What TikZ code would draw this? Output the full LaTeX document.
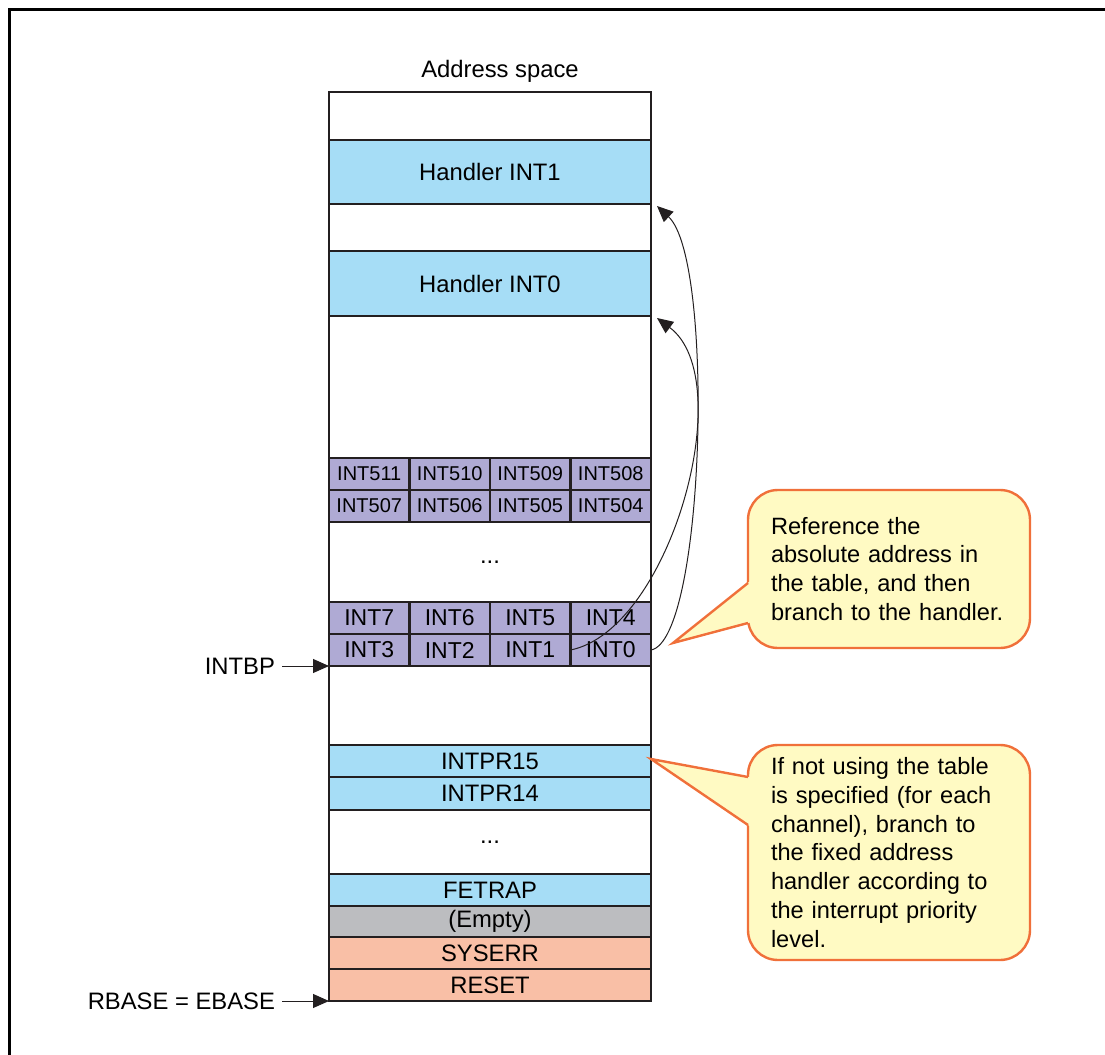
\documentclass[tikz,border=0pt]{standalone}
\usepackage{fontspec}
\setmainfont{Liberation Sans}
\usetikzlibrary{arrows.meta,positioning}

\definecolor{linec}{RGB}{35,31,32}
\definecolor{hdlblue}{RGB}{166,221,246}
\definecolor{vecfill}{RGB}{175,170,212}
\definecolor{emptygray}{RGB}{188,189,192}
\definecolor{sysred}{RGB}{249,191,166}
\definecolor{notefill}{RGB}{255,250,195}
\definecolor{noteline}{RGB}{240,112,58}

\newcommand{\lblfont}{\fontsize{11.9}{13.5}\selectfont}
\newcommand{\cellfont}{\fontsize{11.5}{13}\selectfont}
\newcommand{\widecellfont}{\fontsize{10}{12}\selectfont}
\newcommand{\calloutfont}{\fontsize{11.8}{14.45}\selectfont\hyphenpenalty=10000 }

\begin{document}
\begin{tikzpicture}[x=0.5pt,y=-0.5pt,
  seg/.style={draw=linec,line width=1.1pt,minimum width=161pt,inner sep=0pt,outer sep=0pt,anchor=north,font=\lblfont},
  cell/.style={draw=linec,fill=vecfill,line width=1.1pt,minimum width=40.25pt,minimum height=16pt,inner sep=0pt,outer sep=0pt,anchor=north west,font=\cellfont},
  note/.style={draw=noteline,fill=notefill,line width=1.2pt,rounded corners=15pt,minimum width=141pt,inner xsep=11.5pt,inner ysep=0pt,text width=118pt,align=left,font=\calloutfont},
  ptr/.style={draw=linec,line width=0.5pt,-{Triangle[length=8pt,width=7pt]}}]
\useasboundingbox (0,0) rectangle (1105,1055);
\draw[line width=1.5pt] (9,1070) -- (9,9) -- (1120,9);

% address space column
\node[font=\lblfont] (title) at (500,71) {Address space};
\node[seg,minimum height=24pt] (topgap) at (490,92) {};
\node[seg,fill=hdlblue,minimum height=32pt] (hone) at (490,140) {Handler INT1};
\node[seg,minimum height=23.5pt] (gapa) at (490,204) {};
\node[seg,fill=hdlblue,minimum height=32.5pt] (hzero) at (490,251) {Handler INT0};
\node[seg,minimum height=71pt] (gapb) at (490,316) {};
\node[seg,minimum height=40pt] (dotsa) at (490,522) {...};
\node[seg,minimum height=39.5pt] (gapc) at (490,666) {};
\node[seg,fill=hdlblue,minimum height=16pt] (prfifteen) at (490,745) {INTPR15};
\node[seg,fill=hdlblue,minimum height=16.5pt] (prfourteen) at (490,777) {INTPR14};
\node[seg,minimum height=32pt] (dotsb) at (490,810) {...};
\node[seg,fill=hdlblue,minimum height=16pt] (fetrap) at (490,874) {FETRAP};
\node[seg,fill=emptygray,minimum height=15.5pt] (unused) at (490,906) {(Empty)};
\node[seg,fill=sysred,minimum height=16pt] (syserr) at (490,937) {SYSERR};
\node[seg,fill=sysred,minimum height=16pt] (reset) at (490,969) {RESET};

% vector table
\foreach \y/\a/\b/\c/\d in {458/511/510/509/508,490/507/506/505/504}
  \foreach \n [count=\i from 0] in {\a,\b,\c,\d}
    \node[cell,font=\widecellfont] (int\n) at ({329+80.5*\i},\y) {INT\n};
\foreach \y/\a/\b/\c/\d in {602/7/6/5/4,634/3/2/1/0}
  \foreach \n [count=\i from 0] in {\a,\b,\c,\d}
    \node[cell] (int\n) at ({329+80.5*\i},\y) {INT\n};

% base pointers
\node[font=\lblfont,anchor=east] (intbp) at (282,666) {INTBP};
\node[font=\lblfont,anchor=east] (rbase) at (282,1001) {RBASE = EBASE};
\draw[ptr] (intbp.east) -- (int3.south west);
\draw[ptr] (rbase.east) -- (reset.south west);

% branches to the handlers
\draw[ptr] (int1.east) .. controls (670,630) and (740,380) .. ([xshift=3pt,yshift=-1pt]hzero.south east);
\draw[ptr] (int0.east) .. controls (705,640) and (715,260) .. ([xshift=3pt,yshift=-1pt]hone.south east);

% callouts
\node[note,minimum height=79pt] (notetable) at (889,569) {Reference the\\absolute address in\\the table, and then\\branch to the handler.};
\coordinate (tiptable) at (673,643);
\fill[notefill] (tiptable) -- (754,578) -- (754,621.5) -- cycle;
\draw[noteline,line width=1.2pt] (748,583) -- (tiptable) -- (748,623);

\node[note,minimum height=107.5pt] (notefixed) at (889,852.5) {If not using the table\\is specified (for each\\channel), branch to\\the fixed address\\handler according to\\the interrupt priority\\level.};
\coordinate (tipfixed) at (651,759);
\fill[notefill] (tipfixed) -- (754,778) -- (754,829) -- cycle;
\draw[noteline,line width=1.2pt] (748,777) -- (tipfixed) -- (748,825);
\end{tikzpicture}
\end{document}
